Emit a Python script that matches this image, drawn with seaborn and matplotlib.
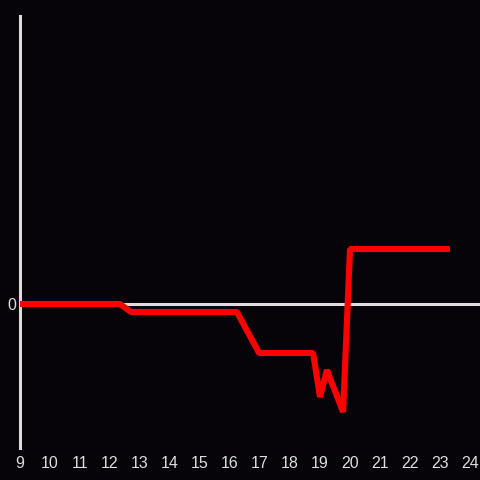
import numpy as np
import pandas as pd
import seaborn as sb
import matplotlib.pyplot as plt

# readings (hour, value)
hours = [9.0, 12.33, 12.7, 16.23, 16.97, 18.77, 19.0, 19.23, 19.77, 20.0, 23.33]
values = [0.0, 0.0, -0.8, -0.8, -4.9, -4.9, -9.3, -6.6, -10.8, 5.5, 5.5]
xticks = list(range(9, 25))

bg = '#060408'
fg = '#dddddd'

df = pd.DataFrame({'hour': hours, 'value': values})

sb.set_style('dark')
plt.rcParams['font.family'] = ['Liberation Sans', 'DejaVu Sans']

fig = plt.figure(figsize=(4.8, 4.8), dpi=100, facecolor=bg)
ax = fig.add_axes([20 / 480, 32 / 480, 460 / 480, 432 / 480])
ax.set_facecolor(bg)

ax.axhline(y=0, color=fg, lw=2.2, zorder=1)
sb.lineplot(data=df, x='hour', y='value', ax=ax, color='#ff0000', lw=4.4,
            zorder=3, solid_joinstyle='bevel', solid_capstyle='butt')

ax.set_xlim(9, 9 + 460 / 30)
ax.set_ylim(-14.4, 28.8)
ax.set_xticks(xticks)
ax.set_yticks([0])
ax.tick_params(colors=fg, labelsize=11.5, length=0, pad=6)
ax.tick_params(axis='y', pad=3)
ax.set_xlabel('')
ax.set_ylabel('')
ax.grid(False)
for side in ['top', 'right', 'bottom']:
    ax.spines[side].set_visible(False)
ax.spines['left'].set_color(fg)
ax.spines['left'].set_linewidth(2.2)

fig.savefig('out.png', dpi=100, facecolor=bg)
